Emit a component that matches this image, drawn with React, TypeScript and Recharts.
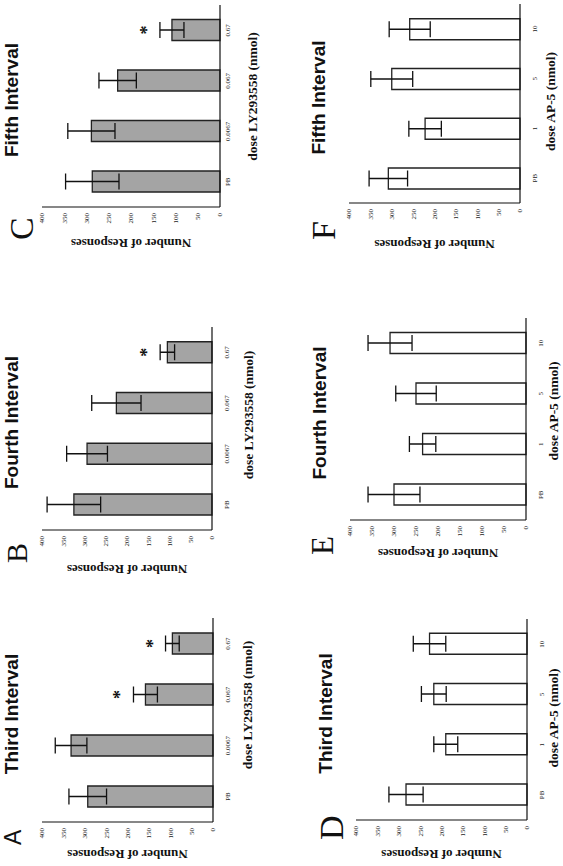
import React from 'react';
import { BarChart, Bar, XAxis, YAxis, ErrorBar, LabelList } from 'recharts';

// dose categories and value axis ticks
const lyDoses = ['PB', '0.0067', '0.067', '0.67'];
const ap5Doses = ['PB', '1', '5', '10'];
const valueTicks = [0, 50, 100, 150, 200, 250, 300, 350, 400];

// LY293558 panels (A-C): mean, error, significance
const lyThirdMean = [293, 332, 158, 95];
const lyThirdErr = [44, 37, 28, 16];
const lyThirdSig = [false, false, true, true];

const lyFourthMean = [325, 294, 225, 105];
const lyFourthErr = [63, 48, 58, 17];
const lyFourthSig = [false, false, false, true];

const lyFifthMean = [287, 289, 230, 108];
const lyFifthErr = [60, 53, 42, 27];
const lyFifthSig = [false, false, false, true];

// AP-5 panels (D-F)
const apThirdMean = [283, 190, 218, 228];
const apThirdErr = [40, 28, 29, 38];

const apFourthMean = [300, 235, 250, 309];
const apFourthErr = [59, 30, 46, 50];

const apFifthMean = [308, 222, 300, 258];
const apFifthErr = [45, 38, 49, 48];

const noSig = [false, false, false, false];

const SERIF = '"Liberation Serif", "Times New Roman", serif';
const SANS = '"Liberation Sans", Arial, sans-serif';

interface PanelProps {
  letter: string;
  title: string;
  cats: string[];
  means: number[];
  errs: number[];
  sig: boolean[];
  fill: string;
  xLabel: string;
  // layout of the plot box in the unrotated figure
  px: number;
  py: number;
  pw: number;
  ph: number;
  catTick: number;
  catMargin: number;
}

const W_Y = 40;
const H_X = 30;
const M_T = 6;
const M_R = 4;

function Panel(p: PanelProps) {
  const data = p.cats.map((c, i) => ({
    dose: c,
    mean: p.means[i],
    err: p.errs[i],
    star: p.sig[i] ? p.means[i] + p.errs[i] : null,
  }));

  const renderStar = (props: any) => {
    const { value } = props;
    if (value == null) return null;
    const vb = props.viewBox || props;
    const bottom = vb.y + vb.height;
    const top = bottom - value * (p.ph / 400);
    const cx = vb.x + vb.width / 2;
    return (
      <text x={cx} y={top - 15 + 8} textAnchor="middle" fontFamily={SERIF} fontWeight="bold" fontSize={18} fill="#111">
        *
      </text>
    );
  };

  return (
    <div style={{ position: 'absolute', left: p.px - W_Y, top: p.py - M_T }}>
      <BarChart
        width={W_Y + p.pw + M_R}
        height={M_T + p.ph + H_X}
        data={data}
        margin={{ top: M_T, right: M_R, left: 0, bottom: 0 }}
      >
        <XAxis
          dataKey="dose"
          height={H_X}
          interval={0}
          tickLine={false}
          tickSize={p.catTick}
          tickMargin={p.catMargin}
          axisLine={{ stroke: '#111', strokeWidth: 1.2 }}
          tick={{ fontSize: 7, fontFamily: SERIF, fill: '#222' }}
        />
        <XAxis xAxisId="top" dataKey="dose" orientation="top" height={0} tick={false} tickLine={false} axisLine={{ stroke: '#111', strokeWidth: 1.2 }} />
        <YAxis
          type="number"
          width={W_Y}
          domain={[0, 400]}
          ticks={valueTicks}
          interval={0}
          tickLine={false}
          tickSize={4}
          tickMargin={2}
          axisLine={{ stroke: '#111', strokeWidth: 1.2 }}
          tick={{ fontSize: 7, fontFamily: SERIF, fill: '#222' }}
        />
        <YAxis yAxisId="right" orientation="right" width={0} tick={false} tickLine={false} axisLine={{ stroke: '#111', strokeWidth: 1.2 }} />
        <Bar dataKey="mean" fill={p.fill} stroke="#222" strokeWidth={1.3} barSize={21} isAnimationActive={false}>
          <ErrorBar dataKey="err" width={8} stroke="#111" strokeWidth={1.3} direction="y" isAnimationActive={false} />
          <LabelList dataKey="star" content={renderStar} />
        </Bar>
      </BarChart>
    </div>
  );
}

const panels: PanelProps[] = [
  { letter: 'A', title: 'Third Interval', cats: lyDoses, means: lyThirdMean, errs: lyThirdErr, sig: lyThirdSig, fill: '#a4a4a4', xLabel: 'dose LY293558 (nmol)', px: 44, py: 42, pw: 204, ph: 171, catTick: 6, catMargin: 6 },
  { letter: 'B', title: 'Fourth Interval', cats: lyDoses, means: lyFourthMean, errs: lyFourthErr, sig: lyFourthSig, fill: '#a4a4a4', xLabel: 'dose LY293558 (nmol)', px: 336, py: 42, pw: 203, ph: 170, catTick: 6, catMargin: 6 },
  { letter: 'C', title: 'Fifth Interval', cats: lyDoses, means: lyFifthMean, errs: lyFifthErr, sig: lyFifthSig, fill: '#a4a4a4', xLabel: 'dose LY293558 (nmol)', px: 659, py: 42, pw: 202, ph: 178, catTick: 3, catMargin: 2 },
  { letter: 'D', title: 'Third Interval', cats: ap5Doses, means: apThirdMean, errs: apThirdErr, sig: noSig, fill: '#ffffff', xLabel: 'dose AP-5 (nmol)', px: 46, py: 356, pw: 201, ph: 171, catTick: 6, catMargin: 6 },
  { letter: 'E', title: 'Fourth Interval', cats: ap5Doses, means: apFourthMean, errs: apFourthErr, sig: noSig, fill: '#ffffff', xLabel: 'dose AP-5 (nmol)', px: 346, py: 350, pw: 202, ph: 176, catTick: 6, catMargin: 6 },
  { letter: 'F', title: 'Fifth Interval', cats: ap5Doses, means: apFifthMean, errs: apFifthErr, sig: noSig, fill: '#ffffff', xLabel: 'dose AP-5 (nmol)', px: 663, py: 349, pw: 199, ph: 171, catTick: 6, catMargin: 6 },
];

// per-panel text placement (letter x/baseline/size, axis title gaps)
const letterPos = [
  { x: 21, y: 21, size: 23, font: SANS },
  { x: 303, y: 27, size: 30, font: SERIF },
  { x: 626, y: 33, size: 34, font: SERIF },
  { x: 26, y: 343, size: 34, font: SERIF },
  { x: 311, y: 333, size: 31, font: SERIF },
  { x: 626, y: 335, size: 34, font: SERIF },
];
const yLabGap = [32, 39.5, 36, 34.5, 33.5, 41];
const xLabGap = [38.5, 40.5, 36.5, 30.5, 31.5, 34.5];
const xLabDx = [15, 13.5, 9.5, 1.5, 8, 2];

export default function App() {
  return (
    <div style={{ position: 'fixed', left: 0, top: 0, width: 563, height: 866, overflow: 'hidden', background: '#fff' }}>
      <div
        style={{
          position: 'absolute',
          left: 0,
          top: 0,
          width: 866,
          height: 563,
          transformOrigin: '0 0',
          transform: 'translate(0px, 866px) rotate(-90deg)',
          background: '#fff',
        }}
      >
        {panels.map((p) => (
          <Panel key={p.letter} {...p} />
        ))}
        <svg width={866} height={563} style={{ position: 'absolute', left: 0, top: 0, pointerEvents: 'none' }}>
          {panels.map((p, i) => {
            const yc = p.py + p.ph / 2;
            const yx = p.px - yLabGap[i] + 4.5;
            return (
              <g key={p.letter}>
                <text x={p.px + p.pw / 2 + 6} y={p.py - 24} textAnchor="middle" fontFamily={SANS} fontWeight="bold" fontSize={19} fill="#111">
                  {p.title}
                </text>
                <text x={letterPos[i].x} y={letterPos[i].y} fontFamily={letterPos[i].font} fontSize={letterPos[i].size} fill="#111">
                  {p.letter}
                </text>
                <text
                  x={yx}
                  y={yc}
                  transform={`rotate(-90, ${yx}, ${yc})`}
                  textAnchor="middle"
                  fontFamily={SERIF}
                  fontWeight="bold"
                  fontSize={13}
                  fill="#111"
                >
                  Number of Responses
                </text>
                <text
                  x={p.px + p.pw / 2 + xLabDx[i]}
                  y={p.py + p.ph + xLabGap[i]}
                  textAnchor="middle"
                  fontFamily={SERIF}
                  fontWeight="bold"
                  fontSize={13.5}
                  fill="#111"
                >
                  {p.xLabel}
                </text>
              </g>
            );
          })}
        </svg>
      </div>
    </div>
  );
}
